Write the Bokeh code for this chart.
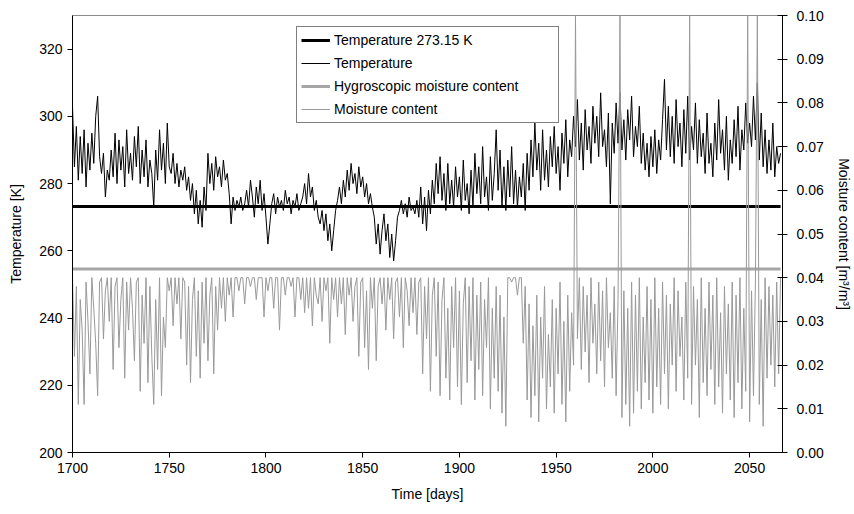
import numpy as np
from bokeh.plotting import figure
from bokeh.models import (Range1d, LinearAxis, FixedTicker, Legend, LegendItem,
                          NumeralTickFormatter)
from bokeh.embed import file_html
from bokeh.resources import INLINE

# ---------------- data ----------------
start_day = 1700

temperature = [
    303, 285, 297, 281, 294, 283, 296, 279, 292, 284,
    295, 286, 300, 306, 288, 283, 289, 276, 284, 281,
    290, 282, 295, 280, 293, 284, 291, 279, 296, 283,
    289, 281, 294, 285, 297, 280, 290, 282, 293, 279,
    287, 283, 273, 290, 281, 296, 284, 292, 280, 298,
    285, 283, 289, 280, 286, 279, 284, 281, 285, 278,
    282, 275, 280, 271, 278, 268, 275, 267, 279, 272,
    289, 280, 286, 278, 288, 282, 285, 279, 287, 281,
    283, 277, 268, 276, 272, 275, 273, 276, 272, 274,
    278, 273, 281, 276, 270, 279, 274, 281, 272, 277,
    270, 262, 268, 274, 277, 271, 276, 273, 275, 272,
    278, 274, 276, 271, 275, 273, 277, 272, 274, 276,
    280, 274, 283, 276, 279, 272, 275, 270, 268, 272,
    266, 271, 263, 268, 260, 266, 272, 275, 279, 274,
    281, 276, 284, 278, 286, 280, 283, 277, 285, 279,
    282, 276, 280, 274, 277, 273, 270, 262, 268, 259,
    266, 271, 263, 268, 258, 265, 257, 263, 270, 272,
    275, 271, 274, 270, 276, 272, 273, 271, 275, 270,
    279, 268, 276, 266, 278, 271, 281, 274, 286, 277,
    288, 275, 283, 272, 286, 274, 281, 273, 285, 276,
    282, 272, 287, 275, 280, 271, 284, 273, 289, 277,
    285, 274, 291, 276, 282, 272, 288, 275, 283, 296,
    278, 290, 273, 285, 272, 287, 276, 291, 274, 284,
    273, 282, 276, 286, 272, 289, 278, 293, 282, 298,
    284, 292, 278, 296, 281, 290, 279, 294, 285, 297,
    283, 291, 278, 295, 286, 299, 282, 293, 288, 300,
    291, 305, 287, 298, 284, 302, 290, 297, 286, 303,
    292, 300, 288, 307, 291, 296, 285, 301, 274, 298,
    289, 304, 292, 307, 290, 299, 287, 302, 293, 306,
    288, 297, 291, 303, 286, 295, 284, 292, 282, 294,
    285, 296, 283, 293, 287, 299, 311, 290, 303, 288,
    300, 286, 305, 291, 298, 285, 302, 289, 306, 287,
    297, 290, 304, 286, 299, 288, 295, 283, 301, 286,
    292, 282, 298, 287, 305, 289, 296, 284, 300, 281,
    293, 286, 299, 288, 303, 284, 296, 290, 304, 292,
    298, 291, 306, 293, 310, 287, 301, 285, 296, 283,
    293, 284, 298, 282, 291, 286, 289,
]

moisture = [
    0.040, 0.022, 0.038, 0.011, 0.035, 0.028, 0.011, 0.039, 0.030, 0.018,
    0.040, 0.033, 0.025, 0.013, 0.039, 0.040, 0.026, 0.037, 0.040, 0.030,
    0.040, 0.019, 0.038, 0.040, 0.024, 0.035, 0.040, 0.017, 0.039, 0.028,
    0.040, 0.033, 0.021, 0.039, 0.040, 0.014, 0.036, 0.025, 0.040, 0.016,
    0.038, 0.022, 0.011, 0.035, 0.019, 0.040, 0.013, 0.031, 0.024, 0.040,
    0.037, 0.040, 0.029, 0.040, 0.034, 0.040, 0.026, 0.040, 0.039, 0.020,
    0.038, 0.016, 0.035, 0.040, 0.022, 0.037, 0.017, 0.039, 0.025, 0.040,
    0.021, 0.036, 0.040, 0.018, 0.038, 0.028, 0.040, 0.033, 0.040, 0.030,
    0.040, 0.036, 0.040, 0.031, 0.040, 0.040, 0.037, 0.040, 0.040, 0.034,
    0.040, 0.040, 0.038, 0.040, 0.040, 0.035, 0.040, 0.040, 0.040, 0.031,
    0.040, 0.037, 0.040, 0.040, 0.033, 0.040, 0.040, 0.028, 0.040, 0.040,
    0.036, 0.040, 0.040, 0.038, 0.040, 0.031, 0.040, 0.040, 0.035, 0.040,
    0.032, 0.040, 0.033, 0.040, 0.029, 0.040, 0.036, 0.034, 0.040, 0.030,
    0.040, 0.037, 0.040, 0.025, 0.040, 0.035, 0.040, 0.031, 0.040, 0.034,
    0.040, 0.027, 0.040, 0.036, 0.040, 0.030, 0.038, 0.040, 0.022, 0.039,
    0.040, 0.024, 0.037, 0.019, 0.040, 0.033, 0.040, 0.021, 0.038, 0.040,
    0.034, 0.040, 0.028, 0.040, 0.035, 0.040, 0.026, 0.039, 0.040, 0.031,
    0.040, 0.024, 0.040, 0.037, 0.029, 0.040, 0.032, 0.040, 0.027, 0.039,
    0.040, 0.018, 0.038, 0.026, 0.040, 0.014, 0.036, 0.040, 0.022, 0.039,
    0.013, 0.035, 0.040, 0.017, 0.033, 0.012, 0.038, 0.024, 0.040, 0.015,
    0.037, 0.011, 0.034, 0.040, 0.016, 0.038, 0.021, 0.040, 0.012, 0.036,
    0.019, 0.039, 0.013, 0.035, 0.024, 0.040, 0.010, 0.033, 0.017, 0.038,
    0.014, 0.036, 0.009, 0.031, 0.006, 0.040, 0.040, 0.039, 0.040, 0.040,
    0.036, 0.040, 0.040, 0.025, 0.038, 0.012, 0.034, 0.008, 0.029, 0.013,
    0.036, 0.007, 0.031, 0.017, 0.038, 0.010, 0.027, 0.015, 0.035, 0.009,
    0.033, 0.018, 0.039, 0.011, 0.030, 0.007, 0.036, 0.014, 0.032, 0.020,
    0.100, 0.026, 0.040, 0.019, 0.038, 0.023, 0.036, 0.016, 0.040, 0.025,
    0.034, 0.018, 0.039, 0.021, 0.037, 0.015, 0.040, 0.024, 0.032, 0.017,
    0.038, 0.013, 0.035, 0.100, 0.008, 0.037, 0.011, 0.033, 0.006, 0.039,
    0.009, 0.036, 0.014, 0.040, 0.010, 0.031, 0.016, 0.038, 0.012, 0.035,
    0.009, 0.040, 0.015, 0.033, 0.011, 0.039, 0.018, 0.036, 0.010, 0.034,
    0.020, 0.040, 0.014, 0.037, 0.022, 0.031, 0.012, 0.039, 0.017, 0.100,
    0.011, 0.038, 0.020, 0.035, 0.008, 0.040, 0.016, 0.033, 0.013, 0.039,
    0.019, 0.036, 0.011, 0.040, 0.015, 0.032, 0.009, 0.038, 0.018, 0.034,
    0.012, 0.039, 0.008, 0.036, 0.016, 0.040, 0.010, 0.033, 0.014, 0.100,
    0.007, 0.037, 0.013, 0.039, 0.100, 0.011, 0.035, 0.006, 0.040, 0.017,
    0.038, 0.020, 0.036, 0.015, 0.039, 0.018, 0.040,
]

days = list(range(start_day, start_day + len(temperature)))
freezing_point = 273.15          # K
hygroscopic_moisture = 0.042     # m3/m3

x_ticks = [1700, 1750, 1800, 1850, 1900, 1950, 2000, 2050]
temp_ticks = [200, 220, 240, 260, 280, 300, 320]
moist_ticks = [0.00, 0.01, 0.02, 0.03, 0.04, 0.05, 0.06, 0.07, 0.08, 0.09, 0.10]

FONT = "Liberation Sans"

# ---------------- figure ----------------
p = figure(width=854, height=506,
           x_range=Range1d(1700, 2067), y_range=Range1d(200, 330),
           output_backend="svg", toolbar_location=None,
           min_border_left=72, min_border_right=72,
           min_border_top=15, min_border_bottom=54)
p.extra_y_ranges = {"moist": Range1d(0.0, 0.10)}

p.grid.visible = False
p.outline_line_color = "#8c8c8c"
p.background_fill_color = "white"
p.border_fill_color = "white"

r_temp = p.line(days, temperature, line_color="black", line_width=1)
r_freeze = p.line(days, [freezing_point] * len(days), line_color="black", line_width=3)
r_hyg = p.line(days, [hygroscopic_moisture] * len(days), line_color="#a6a6a6",
               line_width=3, y_range_name="moist")
r_moist = p.line(days, moisture, line_color="#999999", line_width=1,
                 y_range_name="moist")

# axes
def style_axis(ax):
    ax.axis_line_color = "black"
    ax.major_tick_line_color = "black"
    ax.minor_tick_line_color = None
    ax.major_label_text_font = FONT
    ax.major_label_text_font_size = "14px"
    ax.major_label_text_color = "black"
    ax.axis_label_text_font = FONT
    ax.axis_label_text_font_size = "14px"
    ax.axis_label_text_font_style = "normal"
    ax.axis_label_text_color = "black"

xa = p.xaxis[0]
style_axis(xa)
xa.ticker = FixedTicker(ticks=x_ticks)
xa.axis_label = "Time [days]"
xa.major_tick_out = 5
xa.major_tick_in = 0
xa.major_label_standoff = 5
xa.axis_label_standoff = 10

ya = p.yaxis[0]
style_axis(ya)
ya.ticker = FixedTicker(ticks=temp_ticks)
ya.axis_label = "Temperature [K]"
ya.major_tick_out = 5
ya.major_tick_in = 0
ya.major_label_standoff = 5
ya.axis_label_standoff = 12

ra = LinearAxis(y_range_name="moist")
style_axis(ra)
ra.ticker = FixedTicker(ticks=moist_ticks)
ra.formatter = NumeralTickFormatter(format="0.00")
ra.axis_label = "Moisture content [m³/m³]"
ra.major_tick_out = 5
ra.major_tick_in = 5
ra.major_label_standoff = 9
ra.axis_label_standoff = 9
p.add_layout(ra, "right")

legend = Legend(items=[
    LegendItem(label="Temperature 273.15 K", renderers=[r_freeze]),
    LegendItem(label="Temperature", renderers=[r_temp]),
    LegendItem(label="Hygroscopic moisture content", renderers=[r_hyg]),
    LegendItem(label="Moisture content", renderers=[r_moist]),
], location=(224, 329))
legend.label_text_font = FONT
legend.label_text_font_size = "14px"
legend.label_text_color = "black"
legend.glyph_width = 29
legend.glyph_height = 18
legend.label_height = 18
legend.label_width = 220
legend.label_standoff = 4
legend.spacing = 5
legend.padding = 4
legend.margin = 0
legend.border_line_color = "black"
legend.border_line_width = 1
legend.background_fill_color = "white"
legend.background_fill_alpha = 1.0
p.add_layout(legend)

open("out.html", "w").write(file_html(p, INLINE))
